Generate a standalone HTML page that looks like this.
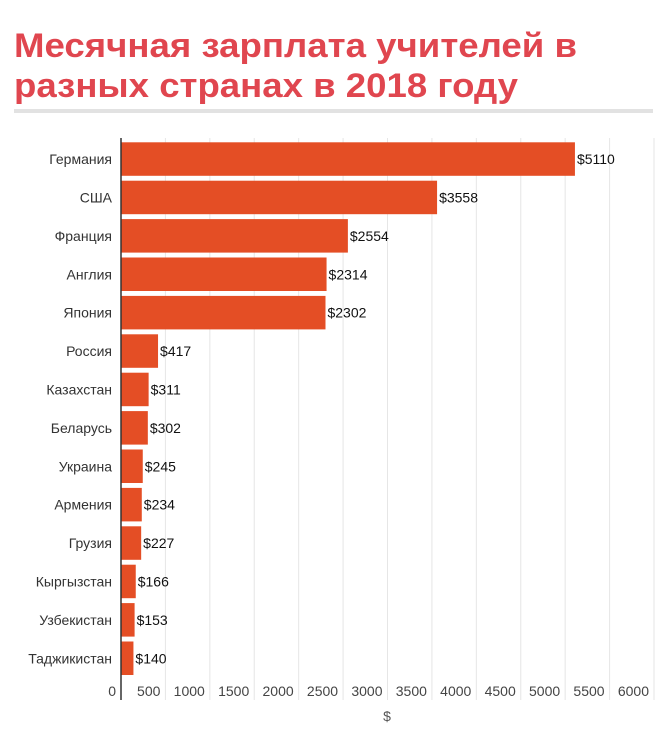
<!DOCTYPE html>
<html><head><meta charset="utf-8"><style>
body{margin:0;background:#fff;}
svg{display:block;font-family:"Liberation Sans","DejaVu Sans",sans-serif;}
</style></head><body>
<svg id="chart" width="667" height="752" viewBox="0 0 667 752" xmlns="http://www.w3.org/2000/svg">
<text x="14" y="57" font-size="34" font-weight="bold" fill="#e0464f" textLength="563" lengthAdjust="spacingAndGlyphs">Месячная зарплата учителей в</text>
<text x="14" y="97" font-size="34" font-weight="bold" fill="#e0464f" textLength="504" lengthAdjust="spacingAndGlyphs">разных странах в 2018 году</text>
<rect x="14" y="109" width="639" height="4" fill="#e2e2e2"/>
<g id="grid"></g>
<g id="bars"></g>
<g id="xticks"></g>
<line x1="121" y1="138" x2="121" y2="700" stroke="#333" stroke-width="1.5"/>
<text x="387" y="721" font-size="14" fill="#555" text-anchor="middle">$</text>
</svg>
<script>
const categories = ["Германия","США","Франция","Англия","Япония","Россия","Казахстан","Беларусь","Украина","Армения","Грузия","Кыргызстан","Узбекистан","Таджикистан"];
const values = [5110,3558,2554,2314,2302,417,311,302,245,234,227,166,153,140];
const tickValues = [0,500,1000,1500,2000,2500,3000,3500,4000,4500,5000,5500,6000];
const tickLabels = ["0","500","1000","1500","2000","2500","3000","3500","4000","4500","5000","5500","6000"];

const NS = "http://www.w3.org/2000/svg";
const x0 = 121, xMaxPx = 654, xMax = 6000;
const xs = v => x0 + v / xMax * (xMaxPx - x0);
const top0 = 142.3, pitch = 38.4, barH = 33.5;
const ys = i => top0 + i * pitch;

const grid = document.getElementById('grid');
const xt = document.getElementById('xticks');
tickValues.forEach((t, i) => {
  if (t > 0) {
    const l = document.createElementNS(NS, 'line');
    
    
    l.setAttribute('x1', xs(t)); l.setAttribute('x2', xs(t));
    l.setAttribute('y1', 138); l.setAttribute('y2', 700);
    l.setAttribute('stroke', '#e6e6e6'); l.setAttribute('stroke-width', '1');
    grid.appendChild(l);
  }
  const tx = document.createElementNS(NS, 'text');
  
  
  tx.setAttribute('x', xs(t) - 5); tx.setAttribute('y', 696);
  tx.setAttribute('text-anchor', 'end');
  tx.setAttribute('font-size', '14'); tx.setAttribute('fill', '#444');
  tx.textContent = tickLabels[i];
  xt.appendChild(tx);
});

const bars = document.getElementById('bars');
categories.forEach((c, i) => {
  const y = ys(i);
  const r = document.createElementNS(NS, 'rect');
  
  
  r.setAttribute('x', x0); r.setAttribute('y', y);
  r.setAttribute('width', xs(values[i]) - x0); r.setAttribute('height', barH);
  r.setAttribute('fill', '#e44e25');
  bars.appendChild(r);
  const lab = document.createElementNS(NS, 'text');
  
  
  lab.setAttribute('x', 112); lab.setAttribute('y', y + barH / 2 + 5);
  lab.setAttribute('text-anchor', 'end');
  lab.setAttribute('font-size', '14'); lab.setAttribute('fill', '#333');
  lab.textContent = c;
  bars.appendChild(lab);
  const v = document.createElementNS(NS, 'text');
  
  
  v.setAttribute('x', xs(values[i]) + 2); v.setAttribute('y', y + barH / 2 + 5);
  v.setAttribute('font-size', '14'); v.setAttribute('fill', '#111');
  v.textContent = '$' + values[i];
  bars.appendChild(v);
});
</script>
</body></html>
